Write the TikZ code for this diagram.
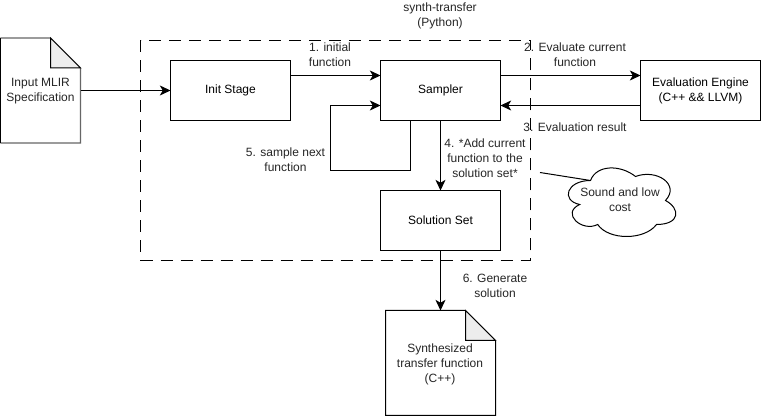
\documentclass[tikz,border=0pt]{standalone}
\usepackage{fontspec}
\setmainfont{Liberation Sans}
\usetikzlibrary{arrows.meta}
\tikzset{
  x=0.75pt,y=-0.75pt,
  box/.style={draw,line width=0.75pt,outer sep=0pt,minimum width=90pt,minimum height=45pt,inner sep=0pt,align=center,font=\fontsize{9}{11.2}\selectfont,anchor=north west},
  lbl/.style={align=center,font=\fontsize{9}{11.2}\selectfont,inner sep=0pt,text=black!85},
  conn/.style={line width=0.75pt,-{Stealth[length=8pt,width=7.5pt,inset=2.2pt]}},
  doc/.style={draw,line width=0.75pt,fill=white},
  fold/.style={draw,line width=0.75pt,fill=black!7},
}
\begin{document}
\begin{tikzpicture}
\useasboundingbox (0,0) rectangle (761,416);
\fill[white] (0,0) rectangle (761,416);
% container
\draw[line width=0.75pt,dash pattern=on 9pt off 6pt] (140.5,40.5) rectangle (530.5,260.5);
% boxes
\node[box] (init) at (170.5,60.5) {Init Stage};
\node[box] (samp) at (380.5,60.5) {Sampler};
\node[box] (eval) at (640.5,60.5) {Evaluation Engine\\(C++ \&\& LLVM)};
\node[box] (sol) at (380.5,190.5) {Solution Set};
% document shapes
\draw[doc,draw=black!60,line width=1pt] (0.5,38) -- (50.5,38) -- (80.5,68) -- (80.5,143) -- (0.5,143);
\draw[line width=0.75pt] (0.5,38) -- (0.5,143);
\draw[fold] (50.5,38) -- (50.5,68) -- (80.5,68) -- cycle;
\node[lbl] (spec) at (40.5,91.5) {Input MLIR\\Specification};
\coordinate (specE) at (80.5,90.5);
\draw[doc] (385.5,310.5) -- (465.5,310.5) -- (495.5,340.5) -- (495.5,415.5) -- (385.5,415.5) -- cycle;
\draw[fold] (465.5,310.5) -- (465.5,340.5) -- (495.5,340.5) -- cycle;
\node[lbl] (out) at (440,364.5) {Synthesized\\transfer function\\(C++)};
\coordinate (outN) at (440.5,310.5);
% connectors
\draw[conn] (specE) -- (init.west);
\draw[conn] (init.east |- 0,75.5) -- (samp.west |- 0,75.5);
\draw[conn] (samp.east |- 0,75.5) -- (eval.west |- 0,75.5);
\draw[conn] (eval.west |- 0,105.5) -- (samp.east |- 0,105.5);
\coordinate (loopA) at (410.5,105.5);
\draw[conn] (samp.south -| loopA) -- (410.5,170.5) -- (330.5,170.5) -- (330.5,105.5) -- (samp.west |- 0,105.5);
\draw[conn] (samp.south) -- (sol.north);
\draw[conn] (sol.south) -- (outN);
% cloud: x0=560.5, y0=160.5, w=120, h=80
\begin{scope}[shift={(560.5,160.5)}]
\draw[line width=0.75pt,fill=white] (30,20)
  .. controls (6,20) and (0,40) .. (19.2,44)
  .. controls (0,52.8) and (21.6,72) .. (37.2,64)
  .. controls (48,80) and (84,80) .. (96,64)
  .. controls (120,64) and (120,48) .. (105,40)
  .. controls (120,24) and (96,8) .. (75,16)
  .. controls (60,4) and (36,4) .. (30,20) -- cycle;
\end{scope}
\node[lbl] (note) at (620,200) {Sound and low\\cost};
\coordinate (noteA) at (540,172.5);
\coordinate (noteB) at (590.5,180.5);
\draw[line width=0.75pt] (noteA) -- (noteB);
% labels
\node[lbl] (lA) at (330,55) {1. initial\\function};
\node[lbl] (lB) at (575,55) {2. Evaluate current\\function};
\node[lbl] (lC) at (575,127.5) {3. Evaluation result};
\node[lbl] (lD) at (285.5,159.5) {5. sample next\\function};
\node[lbl] (lE) at (485,158) {4. *Add current\\function to the\\solution set*};
\node[lbl] (lF) at (495,285.5) {6. Generate\\solution};
\node[lbl] (title) at (440,15.5) {synth-transfer\\(Python)};
\end{tikzpicture}
\end{document}
